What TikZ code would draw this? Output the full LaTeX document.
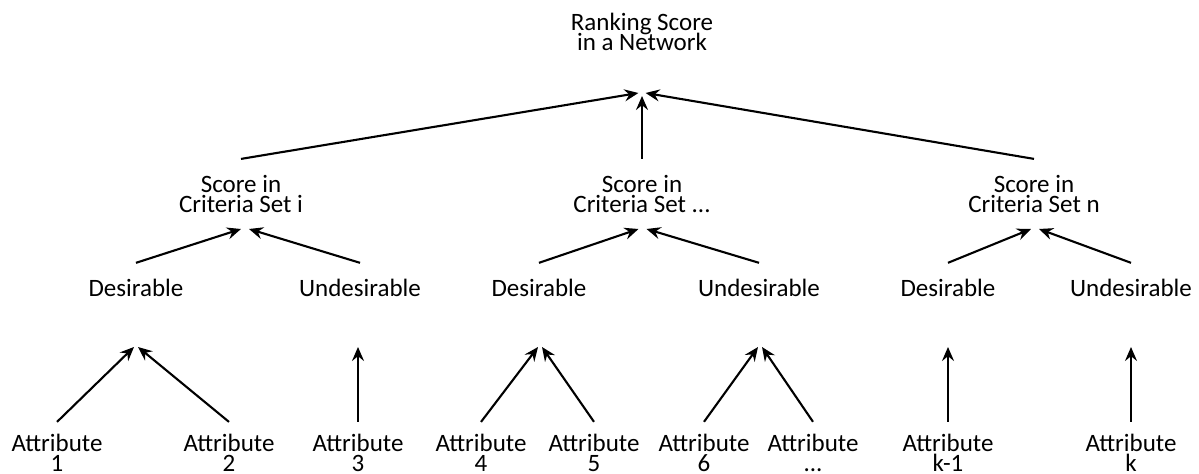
\documentclass[tikz,border=0pt]{standalone}
\usepackage{fontspec}
\setmainfont{Carlito}
\usetikzlibrary{arrows.meta}
\newcommand\tightlines{\lineskiplimit=-20pt\relax}
\tikzset{
  lbl/.style={align=center,inner sep=0pt,
    font={\fontsize{12.5}{10}\selectfont\tightlines}},
  upto/.style={line width=1.05pt,-{Stealth[length=7pt,width=6pt,inset=2.4pt]}},
}
\begin{document}
\begin{tikzpicture}[x=0.5pt,y=-0.5pt]
\useasboundingbox (0,0) rectangle (1199,474);
% top
\node[lbl] (rank) at (642,32) {Ranking Score\\in a Network};
\coordinate (rankin) at (642,93);
% criteria sets
\node[lbl] (set1) at (241,194) {Score in\\Criteria Set i};
\node[lbl] (set2) at (642,194) {Score in\\Criteria Set ...};
\node[lbl] (set3) at (1034,194) {Score in\\Criteria Set n};
\coordinate (set1in) at (245,229);
\coordinate (set2in) at (642.5,229);
\coordinate (set3in) at (1035,229);
% desirable / undesirable
\node[lbl] (des1) at (136,288) {Desirable};
\node[lbl] (und1) at (360,288) {Undesirable};
\node[lbl] (des2) at (539,288) {Desirable};
\node[lbl] (und2) at (759,288) {Undesirable};
\node[lbl] (des3) at (948,288) {Desirable};
\node[lbl] (und3) at (1131,288) {Undesirable};
\coordinate (des1in) at (136,347);
\coordinate (und1in) at (358,347);
\coordinate (des2in) at (540,347);
\coordinate (und2in) at (760,347);
\coordinate (des3in) at (948,347);
\coordinate (und3in) at (1131,347);
% attributes
\node[lbl] (att1) at (57,453) {Attribute\\1};
\node[lbl] (att2) at (229,453) {Attribute\\2};
\node[lbl] (att3) at (358,453) {Attribute\\3};
\node[lbl] (att4) at (481,453) {Attribute\\4};
\node[lbl] (att5) at (594,453) {Attribute\\5};
\node[lbl] (att6) at (704,453) {Attribute\\6};
\node[lbl] (att7) at (813,453) {Attribute\\...};
\node[lbl] (att8) at (948,453) {Attribute\\k-1};
\node[lbl] (att9) at (1131,453) {Attribute\\k};
% arrows
\draw[upto] ([yshift=8pt]set1.north) -- ([xshift=-1.8pt]rankin);
\draw[upto] ([yshift=8pt]set2.north) -- ([yshift=-1.5pt]rankin);
\draw[upto] ([yshift=8pt]set3.north) -- ([xshift=1.8pt]rankin);
\draw[upto] ([yshift=8pt]des1.north) -- ([xshift=-2pt]set1in);
\draw[upto] ([yshift=8pt]und1.north) -- ([xshift=2pt]set1in);
\draw[upto] ([yshift=8pt]des2.north) -- ([xshift=-2pt]set2in);
\draw[upto] ([yshift=8pt]und2.north) -- ([xshift=2pt]set2in);
\draw[upto] ([yshift=8pt]des3.north) -- ([xshift=-2pt]set3in);
\draw[upto] ([yshift=8pt]und3.north) -- ([xshift=2pt]set3in);
\draw[upto] ([yshift=6pt]att1.north) -- ([xshift=-1pt]des1in);
\draw[upto] ([yshift=6pt]att2.north) -- ([xshift=1pt]des1in);
\draw[upto] ([yshift=6pt]att3.north) -- (und1in);
\draw[upto] ([yshift=6pt]att4.north) -- ([xshift=-1pt]des2in);
\draw[upto] ([yshift=6pt]att5.north) -- ([xshift=1pt]des2in);
\draw[upto] ([yshift=6pt]att6.north) -- ([xshift=-1pt]und2in);
\draw[upto] ([yshift=6pt]att7.north) -- ([xshift=1pt]und2in);
\draw[upto] ([yshift=6pt]att8.north) -- (des3in);
\draw[upto] ([yshift=6pt]att9.north) -- (und3in);
\end{tikzpicture}
\end{document}
